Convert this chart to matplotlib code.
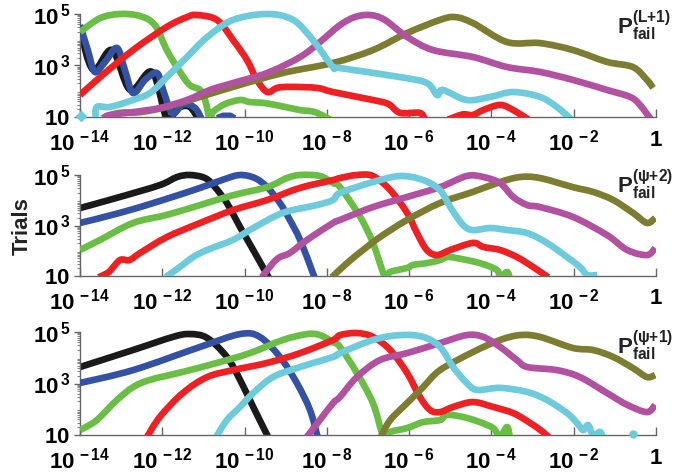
import numpy as np
import matplotlib
matplotlib.use("Agg")
import matplotlib.pyplot as plt
from matplotlib.path import Path
from matplotlib.patches import PathPatch
from matplotlib.ticker import FixedLocator, LogLocator, NullFormatter

plt.rcParams['font.family'] = ['Liberation Sans', 'DejaVu Sans']
plt.rcParams['font.weight'] = 'bold'
plt.rcParams['mathtext.fontset'] = 'custom'
plt.rcParams['mathtext.rm'] = 'Liberation Sans:bold'
plt.rcParams['mathtext.bf'] = 'Liberation Sans:bold'
plt.rcParams['mathtext.it'] = 'Liberation Sans:bold'
plt.rcParams['mathtext.default'] = 'bf'

# ---------------- data (log10 of P_fail, log10 of Trials) ----------------
# Panel 1 : P_fail^(L+1)
p1_black_lx = [-14, -13.68, -13.22, -12.78, -12.25, -11.89, -11.62, -11.33, -11.08]
p1_black_ly = [4.38, 2.83, 3.60, 2.05, 2.75, 0.95, 1.35, 1.39, 0.80]
p1_blue_lx = [-14, -13.81, -13.64, -13.39, -13.10, -12.91, -12.71, -12.42, -12.13, -11.98, -11.81, -11.70, -11.52, -11.33, -11.16, -11.01]
p1_blue_ly = [4.57, 3.60, 2.75, 3.14, 3.68, 2.83, 1.93, 2.44, 2.71, 2.05, 1.27, 1.15, 1.47, 1.47, 1.27, 0.80]
p1_blue_tail_lx = [-10.62, -10.52, -10.34, -10.28]
p1_blue_tail_ly = [1.02, 1.08, 1.08, 1.02]
p1_green_lx = [-14, -13.51, -13.03, -12.54, -12.18, -11.89, -11.57, -11.33, -11.08, -10.96, -10.84, -10.77, -10.48, -10.11, -9.87, -9.50, -9.02, -8.65, -8.29, -7.92]
p1_green_ly = [4.30, 4.84, 5.00, 4.92, 4.57, 3.60, 2.75, 2.24, 2.05, 1.66, 0.90, 1.19, 1.50, 1.66, 1.58, 1.54, 1.39, 1.27, 1.19, 0.90]
p1_red_lx = [-14, -13.51, -12.71, -11.89, -11.40, -11.16, -10.67, -10.28, -9.94, -9.70, -9.45, -9.21, -8.90, -8.24, -7.85, -6.88, -6.50, -6.22, -5.74, -5.62,
             np.nan, -5.05, -4.70, -4.45, -4.20, -3.79, -3.47, -3.10]
p1_red_ly = [1.85, 2.55, 3.60, 4.50, 4.88, 4.96, 4.77, 3.99, 3.21, 2.44, 1.97, 2.13, 2.17, 2.13, 1.97, 1.66, 1.50, 1.16, 1.16, 0.90,
             np.nan, 0.90, 1.10, 1.08, 1.27, 1.47, 1.27, 0.90]
p1_cyan_lx = [-13.62, -13.59, -13.27, -12.71, -12.30, -11.89, -11.40, -10.91, -10.28, -9.45, -8.82, -8.34, -7.85, -7.68, -6.22, -5.57, -5.32, -5.18, -4.60, -4.03, -3.47, -2.82, -2.41, -2.05]
p1_cyan_ly = [0.90, 1.39, 1.39, 1.66, 1.93, 2.55, 3.33, 4.10, 4.77, 5.00, 4.77, 3.99, 2.94, 2.90, 2.55, 2.32, 1.85, 2.05, 1.66, 1.78, 1.97, 1.78, 1.39, 0.90]
p1_cyan_dot_lx = [-13.97]
p1_cyan_dot_ly = [1.04]
p1_magenta_lx = [-13.45, -13.27, -12.71, -12.06, -11.40, -10.84, -10.28, -9.45, -8.65, -8.17, -7.68, -7.32, -6.95, -6.59, -6.05, -5.42, -4.45, -3.62, -2.82, -2.02, -1.19, -0.63, -0.39, -0.12]
p1_magenta_ly = [0.95, 1.08, 1.19, 1.35, 1.66, 2.05, 2.32, 2.71, 3.33, 3.91, 4.57, 4.88, 4.96, 4.77, 4.11, 3.60, 3.33, 2.94, 2.75, 2.44, 2.05, 1.78, 1.47, 0.90]
p1_olive_lx = [-13.39, -13.03, -12.54, -11.89, -11.08, -10.28, -9.07, -7.85, -6.88, -6.05, -5.25, -4.88, -4.45, -3.62, -2.82, -2.02, -1.19, -0.56, -0.22, -0.07]
p1_olive_ly = [1.00, 1.16, 1.19, 1.39, 1.78, 2.17, 2.71, 3.10, 3.60, 4.26, 4.77, 4.88, 4.65, 3.91, 3.87, 3.60, 3.14, 2.94, 2.44, 2.13]

# Panel 2 : P_fail^(psi+2)
p2_black_lx = [-14, -13.03, -12.06, -11.64, -11.33, -10.96, -10.72, -10.43, -10.11, -9.79, -9.40]
p2_black_ly = [3.69, 4.13, 4.60, 4.92, 5.00, 4.88, 4.52, 3.89, 2.94, 2.03, 0.90]
p2_blue_lx = [-14, -13.03, -12.06, -11.08, -10.48, -10.11, -9.75, -9.45, -9.14, -8.90, -8.65, -8.34, -8.28]
p2_blue_ly = [3.10, 3.50, 3.97, 4.49, 4.84, 5.00, 4.88, 4.52, 3.89, 3.22, 2.43, 1.12, 0.85]
p2_green_lx = [-14, -13.51, -12.71, -11.89, -11.08, -10.28, -9.45, -8.97, -8.65, -8.17, -7.85, -7.68, -7.19, -6.88, -6.63, -6.55, -6.46, -6.05, -5.90, -5.57, -5.25, -5.08, -4.84, -4.28, -3.87, -3.79, -3.62, -3.55]
p2_green_ly = [2.03, 2.43, 3.10, 3.42, 3.81, 4.20, 4.52, 4.88, 5.00, 4.96, 4.68, 4.52, 3.34, 2.31, 1.12, 0.95, 1.16, 1.32, 1.44, 1.51, 1.63, 1.75, 1.71, 1.51, 1.24, 0.95, 1.16, 0.90]
p2_red_lx = [-13.55, -13.30, -13.03, -12.80, -12.54, -11.89, -11.08, -10.28, -9.45, -8.65, -7.85, -7.68, -7.27, -6.88, -6.46, -6.05, -5.81, -5.57, -5.32, -5.00, -4.45, -4.20, -3.79, -3.38, -2.99, -2.62]
p2_red_ly = [0.95, 1.16, 1.63, 1.63, 1.91, 2.54, 3.10, 3.61, 4.01, 4.49, 4.80, 4.88, 5.00, 4.96, 4.40, 3.50, 2.70, 2.03, 1.83, 2.03, 2.31, 2.15, 2.03, 1.75, 1.36, 0.95]
p2_cyan_lx = [-11.92, -11.57, -11.25, -10.91, -10.28, -9.79, -9.07, -8.24, -7.85, -7.68, -6.88, -6.22, -5.66, -5.25, -5.00, -4.69, -4.45, -4.03, -3.62, -3.13, -2.65, -2.16, -1.85, -1.67, -1.43]
p2_cyan_ly = [0.95, 1.36, 1.75, 2.03, 2.43, 2.90, 3.50, 3.81, 4.01, 4.29, 4.72, 4.96, 4.80, 4.40, 3.73, 3.02, 2.82, 2.90, 2.82, 2.70, 2.31, 1.75, 1.36, 1.04, 1.04]
p2_magenta_lx = [-9.58, -9.31, -9.14, -8.90, -8.48, -7.85, -7.68, -6.88, -6.05, -5.25, -4.60, -4.20, -3.79, -3.47, -3.13, -2.82, -2.02, -1.19, -0.70, -0.22, -0.02]
p2_magenta_ly = [0.95, 1.51, 1.75, 1.91, 2.43, 3.10, 3.22, 3.73, 4.13, 4.52, 4.96, 4.92, 4.68, 4.13, 3.81, 3.73, 3.34, 2.62, 2.03, 1.83, 2.11]
p2_olive_lx = [-7.88, -7.51, -7.12, -6.71, -6.05, -5.25, -4.45, -3.79, -3.30, -2.82, -2.02, -1.53, -1.04, -0.56, -0.22, -0.02]
p2_olive_ly = [0.95, 1.51, 2.03, 2.54, 3.22, 3.89, 4.33, 4.72, 4.92, 4.88, 4.52, 4.33, 4.01, 3.50, 3.10, 3.30]

# Panel 3 : P_fail^(psi+1)
p3_black_lx = [-14, -12.71, -11.74, -11.33, -10.91, -10.43, -10.11, -9.79, -9.42]
p3_black_ly = [3.64, 4.30, 4.81, 4.92, 4.77, 4.03, 3.14, 2.09, 0.90]
p3_blue_lx = [-14, -12.71, -11.08, -10.11, -9.63, -9.14, -8.73, -8.41, -8.22]
p3_blue_ly = [3.02, 3.52, 4.42, 4.92, 4.81, 4.03, 3.02, 1.97, 0.90]
p3_green_lx = [-14, -13.68, -13.51, -13.10, -12.71, -12.30, -11.50, -10.67, -9.87, -9.07, -8.48, -8.17, -7.85, -7.68, -7.27, -6.88, -6.66, -6.55, -6.46, -6.05, -5.66, -5.25, -5.08, -4.69, -4.28, -3.96, -3.79, -3.62, -3.55]
p3_green_ly = [1.19, 1.47, 1.70, 2.36, 2.86, 3.14, 3.45, 3.80, 4.18, 4.69, 4.92, 4.88, 4.61, 4.42, 3.41, 2.24, 1.08, 0.95, 1.12, 1.27, 1.50, 1.58, 1.78, 1.70, 1.50, 1.27, 0.95, 1.31, 0.90]
p3_red_lx = [-12.38, -12.06, -11.50, -10.91, -10.28, -9.45, -8.65, -7.85, -7.68, -7.27, -6.88, -6.46, -6.05, -5.74, -5.49, -5.25, -4.93, -4.45, -3.96, -3.47, -3.06, -2.75, -2.60]
p3_red_ly = [0.90, 1.70, 2.63, 3.25, 3.52, 3.80, 4.18, 4.69, 4.88, 4.96, 4.81, 4.30, 3.41, 2.48, 1.97, 1.89, 2.09, 2.28, 2.09, 1.85, 1.47, 1.12, 0.90]
p3_cyan_lx = [-10.70, -10.43, -10.11, -9.79, -9.31, -8.65, -7.85, -7.68, -6.88, -6.22, -5.66, -5.25, -4.93, -4.60, -4.35, -3.79, -3.13, -2.65, -2.16, -1.92, -1.77, -1.65, -1.53, -1.36, -1.30]
p3_cyan_ly = [0.90, 1.58, 2.09, 2.63, 3.25, 3.64, 4.03, 4.18, 4.69, 4.88, 4.81, 4.42, 3.64, 3.02, 2.75, 2.83, 2.67, 2.36, 1.85, 1.47, 1.19, 1.39, 1.00, 1.12, 0.90]
p3_cyan_dot_lx = [-0.56]
p3_cyan_dot_ly = [1.03]
p3_magenta_lx = [-8.50, -8.17, -7.85, -7.68, -7.27, -6.71, -6.05, -5.25, -4.60, -4.20, -3.79, -3.38, -3.13, -2.41, -1.85, -1.19, -0.70, -0.22, -0.02]
p3_magenta_ly = [0.90, 1.58, 2.24, 2.48, 3.25, 3.91, 4.18, 4.57, 4.88, 4.81, 4.42, 3.91, 3.64, 3.52, 3.25, 2.63, 2.17, 1.89, 2.17]
p3_olive_lx = [-6.68, -6.46, -6.05, -5.66, -5.25, -4.45, -3.79, -3.30, -2.82, -2.02, -1.53, -1.04, -0.56, -0.22, -0.02]
p3_olive_ly = [0.95, 1.58, 2.24, 2.86, 3.52, 4.22, 4.69, 4.88, 4.81, 4.38, 4.30, 4.03, 3.60, 3.25, 3.33]

panel_labels = [r'$\mathbf{P}_{\mathbf{fail}}^{\mathbf{(L{+}1)}}$',
                r'$\mathbf{P}_{\mathbf{fail}}^{\mathbf{(\psi{+}2)}}$',
                r'$\mathbf{P}_{\mathbf{fail}}^{\mathbf{(\psi{+}1)}}$']
xtick_exps = [-14, -12, -10, -8, -6, -4, -2, 0]
ytick_vals = [10, 1e3, 1e5]
ytick_labels = [r'$\mathbf{10}$', r'$\mathbf{10^{\,3}}$', r'$\mathbf{10^{\,5}}$']
ylabel_text = 'Trials'

colors = {'black': '#1a1a1a', 'blue': '#3451a3', 'green': '#6abd45', 'red': '#ed2024',
          'cyan': '#6dcbdc', 'magenta': '#b2519f', 'olive': '#7d7d32'}
zorders = {'black': 2, 'blue': 3, 'green': 4, 'red': 5, 'olive': 6, 'magenta': 7, 'cyan': 8}

panels = [
    {'black': (p1_black_lx, p1_black_ly), 'blue': (p1_blue_lx, p1_blue_ly), 'green': (p1_green_lx, p1_green_ly),
     'red': (p1_red_lx, p1_red_ly), 'olive': (p1_olive_lx, p1_olive_ly), 'magenta': (p1_magenta_lx, p1_magenta_ly),
     'cyan': (p1_cyan_lx, p1_cyan_ly)},
    {'black': (p2_black_lx, p2_black_ly), 'blue': (p2_blue_lx, p2_blue_ly), 'green': (p2_green_lx, p2_green_ly),
     'red': (p2_red_lx, p2_red_ly), 'olive': (p2_olive_lx, p2_olive_ly), 'magenta': (p2_magenta_lx, p2_magenta_ly),
     'cyan': (p2_cyan_lx, p2_cyan_ly)},
    {'black': (p3_black_lx, p3_black_ly), 'blue': (p3_blue_lx, p3_blue_ly), 'green': (p3_green_lx, p3_green_ly),
     'red': (p3_red_lx, p3_red_ly), 'olive': (p3_olive_lx, p3_olive_ly), 'magenta': (p3_magenta_lx, p3_magenta_ly),
     'cyan': (p3_cyan_lx, p3_cyan_ly)},
]


def smooth_path(lx, ly):
    """Smooth (Catmull-Rom -> cubic Bezier) path through the read points, in log space."""
    lx = np.asarray(lx, float)
    ly = np.asarray(ly, float)
    verts, codes = [], []
    bad = np.isnan(lx) | np.isnan(ly)
    idx = np.flatnonzero(~bad)
    groups = np.split(idx, np.where(np.diff(idx) != 1)[0] + 1)
    for g in groups:
        if len(g) == 0:
            continue
        P = np.column_stack([lx[g], ly[g]])
        n = len(P)
        verts.append(P[0]); codes.append(Path.MOVETO)
        for i in range(n - 1):
            p0 = P[i - 1] if i > 0 else P[i]
            p1, p2 = P[i], P[i + 1]
            p3 = P[i + 2] if i + 2 < n else P[i + 1]
            c1 = p1 + (p2 - p0) / 6.0
            c2 = p2 - (p3 - p1) / 6.0
            verts += [c1, c2, p2]
            codes += [Path.CURVE4] * 3
    V = 10.0 ** np.array(verts)
    return Path(V, codes)


# ---------------- layout (pixel geometry of the reference) ----------------
W, H = 682, 476
fig = plt.figure(figsize=(W / 100, H / 100), dpi=100)
x_left, x_right = 80, 656
ytop_val = 1.6e5
geo = [(117, 25.75), (276, 25.25), (435, 25.75)]
# label baseline position in pixels
label_base_px = [34, 193, 354]

for i, (ybot, ppd) in enumerate(geo):
    ytop = ybot - np.log10(ytop_val / 10) * ppd
    ax = fig.add_axes([x_left / W, 1 - ybot / H, (x_right - x_left) / W, (ybot - ytop) / H])
    ax.set_xscale('log')
    ax.set_yscale('log')
    ax.set_xlim(1e-14, 1)
    ax.set_ylim(10, ytop_val)
    for name, (lx, ly) in panels[i].items():
        patch = PathPatch(smooth_path(lx, ly), facecolor='none', edgecolor=colors[name],
                          lw=4.8, joinstyle='round', capstyle='butt', zorder=zorders[name],
                          transform=ax.transData)
        ax.add_patch(patch)
    if i == 0:
        ax.plot(10.0 ** np.array(p1_blue_tail_lx), 10.0 ** np.array(p1_blue_tail_ly),
                color=colors['blue'], lw=3.5, zorder=3)
        ax.plot(10.0 ** np.array(p1_cyan_dot_lx), 10.0 ** np.array(p1_cyan_dot_ly), 'D',
                color=colors['cyan'], ms=5, zorder=8, clip_on=False)
    if i == 2:
        ax.plot(10.0 ** np.array(p3_cyan_dot_lx), 10.0 ** np.array(p3_cyan_dot_ly), 'o',
                color=colors['cyan'], ms=5, zorder=8, clip_on=False)

    for s in ['top', 'right']:
        ax.spines[s].set_visible(False)
    for s in ['left', 'bottom']:
        ax.spines[s].set_color('#666666')
        ax.spines[s].set_linewidth(1.0)
    ax.spines['left'].set_bounds(10, 1e5)

    ax.xaxis.set_major_locator(FixedLocator([10.0 ** e for e in xtick_exps]))
    ax.set_xticklabels([r'$\mathbf{1}$' if e == 0 else r'$\mathbf{10^{\,%d}}$' % e for e in xtick_exps])
    ax.xaxis.set_minor_locator(FixedLocator([]))
    ax.yaxis.set_major_locator(FixedLocator(ytick_vals))
    ax.set_yticklabels(ytick_labels)
    ax.yaxis.set_minor_locator(FixedLocator([m * 10.0 ** d for d in range(1, 5) for m in range(2, 10)]))
    ax.yaxis.set_minor_formatter(NullFormatter())
    ax.tick_params(axis='x', which='major', direction='in', length=6, width=1, color='#666666',
                   labelsize=16, pad=9)
    ax.tick_params(axis='y', which='major', direction='out', length=4, width=1, color='#666666',
                   labelsize=16, pad=3)
    ax.tick_params(axis='y', which='minor', direction='out', length=2.5, width=0.8, color='#888888')
    ax.text(617 / W, 1 - label_base_px[i] / H, panel_labels[i], transform=fig.transFigure,
            ha='left', va='baseline', fontsize=16, color='#222222')

fig.text(22 / W, 1 - 226 / H, ylabel_text, rotation=90, ha='center', va='center',
         fontsize=16, fontweight='bold', color='#222222')

fig.savefig('out.png', dpi=100)
